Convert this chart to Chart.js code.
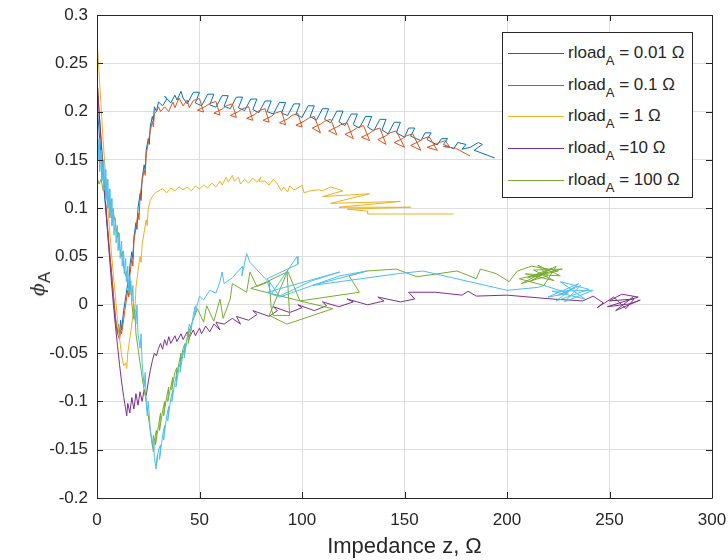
<!DOCTYPE html>
<html>
<head>
<meta charset="utf-8">
<script src="https://cdn.jsdelivr.net/npm/chart.js@4.4.1/dist/chart.umd.min.js"></script>
<style>
  html, body { margin: 0; padding: 0; background: #fff; }
  #wrap { position: relative; width: 728px; height: 560px; font-family: "Liberation Sans", Arial, sans-serif; color: #262626; }
  #c { position: absolute; left: 0; top: 0; }
  #legend { position: absolute; left: 502px; top: 32px; width: 189px; height: 164px; border: 1px solid #262626; background: #fff; }
  .row { position: absolute; left: 0; height: 20px; width: 189px; }
  .swatch { position: absolute; left: 5px; width: 56px; height: 0; border-top: 1px solid; top: 10px; }
  .lbl { position: absolute; left: 65px; top: 0; font-size: 17px; line-height: 20px; white-space: nowrap; }
  .lbl sub { font-size: 13px; vertical-align: -7px; line-height: 0; }
  #ytitle { position: absolute; left: 37px; top: 284px; transform: translate(-50%, -50%) rotate(-90deg); font-size: 19px; white-space: nowrap; font-family: "DejaVu Serif", serif; }
  #ytitle i { font-style: italic; }
  #ytitle sub { font-family: "Liberation Sans", Arial, sans-serif; font-size: 17px; vertical-align: -6px; line-height: 0; }
</style>
</head>
<body>
<div id="wrap">
  <canvas id="c" width="728" height="560"></canvas>
  <div id="ytitle"><i>ϕ</i><sub>A</sub></div>
  <div id="legend"></div>
</div>
<script>
// ---- Data ----
const xTicks = [0, 50, 100, 150, 200, 250, 300];
const yTicks = [-0.2, -0.15, -0.1, -0.05, 0, 0.05, 0.1, 0.15, 0.2, 0.25, 0.3];
const legendLabels = ["0.01", "0.1", "1", "10", "100"];
const legendPrefix = "rload";
const legendSub = "A";
const legendSep = [" = ", " = ", " = ", " =", " = "];
const seriesColors = ["#0072BD", "#D95319", "#EDB120", "#7E2F8E", "#77AC30", "#4DBEEE"];

const rload001 = [[0.3,0.2],[1,0.18],[2,0.155],[3,0.13],[4,0.105],[5,0.08],[6,0.055],[7,0.035],[8,0.01],[9,-0.015],[10,-0.03],[10.5,-0.02],[11,-0.034],[11.5,-0.016],[12,-0.026],[13,-0.006],[14,0.008],[15,0.022],[15.5,0.015],[16,0.04],[17,0.055],[17.5,0.048],[18,0.07],[19,0.085],[19.5,0.078],[20,0.1],[21,0.115],[21.5,0.108],[22,0.13],[23,0.145],[23.5,0.14],[24,0.16],[25,0.172],[25.5,0.166],[26,0.185],[27,0.195],[27.5,0.19],[28,0.205],[29,0.2],[30,0.21],[32,0.206],[34,0.213],[33,0.216],[36,0.209],[38,0.217],[39,0.212],[41,0.221],[42,0.214],
  [44,0.208],[47,0.22],[50,0.22],[48,0.209],[51,0.206],[54,0.218],[57,0.218],[55,0.207],[58,0.2045],[61,0.2165],[64,0.2165],[62,0.2055],[65,0.203],[68,0.215],[71,0.215],[69,0.204],[72,0.201],[75,0.213],[78,0.213],[76,0.202],[79,0.199],[82,0.211],[85,0.211],[83,0.2],[86,0.1975],[89,0.2095],[92,0.2095],[90,0.1985],[93,0.196],[96,0.208],[99,0.208],[97,0.197],[100,0.194],[103,0.206],[106,0.206],[104,0.195],[107,0.191],[110,0.203],[113,0.203],[111,0.192],[114,0.1885],[117,0.2005],[120,0.2005],[118,0.1895],[121,0.1855],[124,0.1975],[127,0.1975],[125,0.1865],[128,0.183],[131,0.195],[134,0.195],[132,0.184],[135,0.18],[138,0.192],[141,0.192],[139,0.181],[142,0.177],[145,0.189],[148,0.189],[146,0.178],[150,0.1735],[152,0.183],[155,0.183],[153,0.1745],[158,0.17],[160,0.178],[163,0.178],[161,0.171],[166,0.1655],[168,0.172],[171,0.172],[169,0.166],[174,0.1615],[176,0.168],[180,0.166],[178,0.161],[182,0.163],[186,0.168],[188,0.166],[184,0.16],[194,0.152]];

const rload01 = [[0.3,0.225],[1,0.2],[2,0.17],[3,0.14],[4,0.112],[5,0.085],[6,0.06],[7,0.035],[8,0.01],[9,-0.012],[10,-0.03],[11,-0.036],[11.5,-0.026],[12,-0.03],[13,-0.015],[14,0.0],[15,0.015],[15.5,0.008],[16,0.03],[17,0.048],[17.5,0.04],[18,0.065],[19,0.08],[20,0.095],[20.5,0.088],[21,0.112],[22,0.128],[23,0.14],[23.5,0.134],[24,0.155],[25,0.168],[26,0.18],[27,0.19],[27.5,0.184],[28,0.198],[29,0.2],[30,0.205],[31,0.2],[33,0.205],[35,0.2],[37,0.21],[38,0.204],[40,0.214],[42,0.206],[44,0.212],[45,0.204],
  [47,0.2115],[50,0.2135],[52,0.1995],[49,0.2015],[53,0.2055],[55,0.2085],[58,0.2105],[60,0.1965],[57,0.1985],[61,0.2025],[63,0.206],[66,0.208],[68,0.194],[65,0.196],[69,0.2],[71,0.203],[74,0.205],[76,0.191],[73,0.193],[77,0.197],[79,0.201],[82,0.203],[84,0.189],[81,0.191],[85,0.195],[87,0.1985],[90,0.2005],[92,0.1865],[89,0.1885],[93,0.1925],[95,0.196],[98,0.198],[100,0.184],[97,0.186],[101,0.19],[103,0.193],[106,0.195],[109,0.178],[105,0.183],[109,0.187],[111,0.19],[114,0.192],[117,0.176],[113,0.18],[117,0.184],[119,0.1865],[122,0.1885],[125,0.172],[121,0.1765],[125,0.1805],[127,0.1835],[130,0.1855],[133,0.17],[129,0.1735],[133,0.1775],[135,0.181],[138,0.183],[141,0.166],[137,0.171],[141,0.175],[143,0.178],[146,0.18],[150,0.163],[145,0.168],[149,0.172],[151,0.175],[154,0.177],[158,0.16],[153,0.165],[157,0.169],[159,0.172],[162,0.174],[166,0.16],[161,0.163],[165,0.166],[167,0.168],[170,0.17],[172,0.163],[169,0.164],[175,0.162],[182,0.154]];

const rload1 = [[0.3,0.265],[1,0.24],[2,0.205],[3,0.17],[4,0.14],[5,0.11],[6,0.082],[7,0.055],[8,0.03],[9,0.008],[10,-0.015],[11,-0.035],[12,-0.052],[13,-0.063],[14,-0.06],[14.5,-0.066],[15,-0.05],[16,-0.035],[17,-0.02],[18,0.0],[18.5,-0.006],[19,0.018],[20,0.035],[21,0.05],[21.5,0.044],[22,0.062],[23,0.075],[24,0.088],[24.5,0.082],[25,0.1],[26,0.108],[27,0.112],[28,0.115],[30,0.118],[32,0.12],[34,0.116],[36,0.121],[38,0.118],[40,0.122],[42,0.119],[44,0.122],[46,0.118],[48,0.123],[50,0.12],[52,0.124],[54,0.121],[56,0.126],[58,0.122],[60,0.128],[61,0.124],[63,0.132],[64,0.127],[66,0.134],[67,0.128],[69,0.132],[70,0.125],[72,0.13],[74,0.126],[76,0.131],[78,0.127],[80,0.132],[79,0.128],[82,0.128],[84,0.124],[86,0.13],[88,0.125],[90,0.118],[91,0.122],[93,0.117],[94,0.123],[96,0.119],[98,0.121],[100,0.124],[101,0.116],[104,0.118],[108,0.119],[110,0.118],[114,0.122],[120,0.118],[110,0.112],[133,0.115],[114,0.105],[148,0.107],[118,0.101],[153,0.101],[122,0.099],[132,0.097],[132,0.094],[174,0.094]];

const rload10 = [[0.3,0.225],[1,0.2],[2,0.17],[3,0.14],[4,0.11],[5,0.08],[6,0.052],[7,0.025],[8,0.0],[9,-0.022],[10,-0.042],[11,-0.062],[12,-0.08],[13,-0.095],[14,-0.108],[14.5,-0.115],[15,-0.102],[16,-0.112],[17,-0.096],[18,-0.108],[19,-0.092],[20,-0.104],[21,-0.09],[22,-0.1],[23,-0.088],[24,-0.094],[25,-0.08],[26,-0.068],[27,-0.058],[28,-0.05],[29,-0.053],[30,-0.045],[31,-0.04],[32,-0.046],[33,-0.036],[34,-0.042],[35,-0.033],[36,-0.04],[38,-0.032],[39,-0.038],[41,-0.03],[42,-0.036],[44,-0.028],[45,-0.034],[47,-0.026],[48,-0.032],[50,-0.024],[51,-0.03],[53,-0.022],[55,-0.028],[57,-0.02],[60,-0.026],[58,-0.018],[62,-0.02],[66,-0.014],[70,-0.02],[68,-0.012],[74,-0.016],[78,-0.01],[76,-0.006],[84,-0.012],[88,-0.006],[86,-0.002],[94,-0.008],[100,-0.003],[98,0.0],[106,-0.006],[112,-0.001],[110,0.003],[118,-0.002],[125,0.003],[122,0.006],[132,0.0],[140,0.004],[137,0.008],[148,0.003],[155,0.006],[152,0.013],[165,0.013],[178,0.01],[181,0.014],[185,0.009],[200,0.01],[222,0.006],[237,0.004],[242,0.009],[247,0.002],[244,-0.003],[252,0.008],[258,-0.004],[262,0.006],[250,0.004],[256,0.011],[264,0.008],[249,-0.002],[260,0.001],[265,0.005],[253,-0.006],[262,0.009]];

const rload100 = [[0.3,0.13],[1,0.125],[2,0.13],[3,0.118],[4,0.122],[5,0.11],[6,0.112],[7,0.1],[8,0.095],[9,0.085],[10,0.07],[10.5,0.075],[11,0.06],[12,0.05],[12.5,0.055],[13,0.04],[14,0.03],[14.5,0.035],[15,0.02],[16,0.01],[16.5,0.025],[17,0.0],[18,-0.015],[18.5,-0.005],[19,-0.03],[20,-0.045],[21,-0.06],[22,-0.075],[23,-0.088],[24,-0.1],[25,-0.115],[26,-0.13],[27,-0.145],[27.5,-0.152],[28,-0.14],[29,-0.13],[28.5,-0.145],[30,-0.125],[31,-0.112],[30.5,-0.13],[32,-0.11],[33,-0.1],[32.5,-0.115],[34,-0.095],[35,-0.085],[34.5,-0.1],[36,-0.085],[37,-0.075],[36.5,-0.088],[38,-0.07],[39,-0.065],[38.5,-0.078],[40,-0.06],[41,-0.05],[40.5,-0.064],[42,-0.045],[43,-0.04],[42.5,-0.052],[44,-0.034],[45,-0.03],[44.5,-0.04],[46,-0.025],[44,-0.032],[49,-0.004],[52,-0.018],[53.5,-0.001],[57,-0.017],[60,0.006],[61.5,-0.014],[65,0.006],[66,0.022],[73,0.013],[74.6,0.034],[78,0.019],[84,0.024],[85,-0.004],[86,-0.011],[94,-0.011],[92.7,0.034],[83,0.024],[75,0.017],[99,0.004],[93,0.035],[84,-0.011],[92.7,-0.02],[115,-0.004],[99,0.004],[128,0.013],[123,0.03],[131.7,0.035],[146,0.037],[156,0.029],[175.6,0.035],[185,0.027],[187,0.037],[192,0.034],[195,0.032],[201,0.024],[205,0.035],[212,0.04],[225,0.035],[210,0.028],[222,0.038],[207,0.022],[220,0.03],[215,0.041],[226,0.03],[209,0.032],[223,0.025],[213,0.036],[227,0.037],[206,0.027],[218,0.02],[224,0.04],[211,0.024],[219,0.033]];

const rloadExtra = [[0.3,0.19],[0.5,0.15],[1,0.172],[1.3,0.138],[2,0.16],[2.3,0.128],[3,0.15],[3.3,0.118],[4,0.14],[4.3,0.108],[5,0.13],[5.3,0.1],[6,0.12],[6.3,0.09],[7,0.11],[7.3,0.082],[8,0.1],[8.3,0.072],[9,0.09],[9.3,0.064],[10,0.082],[10.3,0.056],[11,0.074],[11.3,0.048],[12,0.066],[12.3,0.04],[13,0.056],[13.3,0.032],[14,0.048],[14.3,0.024],[15,0.04],[15.5,0.014],[16,0.03],[17,0.004],[17.5,0.02],[18,-0.01],[19,-0.02],[19.5,0.0],[20,-0.03],[21,-0.045],[21.5,-0.03],[22,-0.06],[23,-0.085],[23.5,-0.07],[24,-0.1],[24.5,-0.115],[25,-0.1],[26,-0.13],[27,-0.145],[27.5,-0.135],[28,-0.158],[28.8,-0.17],[29.5,-0.155],[29,-0.165],[30,-0.15],[31,-0.145],[30.5,-0.16],[32,-0.135],[33,-0.125],[32.5,-0.14],[34,-0.115],[35,-0.105],[34.5,-0.12],[36,-0.097],[37,-0.088],[36.5,-0.1],[38,-0.08],[39,-0.072],[38.5,-0.085],[40,-0.065],[41,-0.058],[40.5,-0.07],[42,-0.05],[43,-0.042],[42.5,-0.055],[44,-0.035],[45,-0.02],[46,-0.025],[47,-0.01],[48,-0.001],[47.5,-0.012],[50,0.009],[52,0.005],[55,0.015],[58,0.012],[60,0.024],[61,0.034],[62,0.022],[66,0.028],[71,0.04],[70.7,0.03],[73,0.053],[74.6,0.044],[83,0.025],[85,0.011],[97.6,0.05],[98,0.042],[83,0.027],[89,0.009],[105,0.025],[118.5,0.034],[83,0.013],[89,0.008],[118.5,0.03],[131.7,0.035],[105,0.02],[146,0.032],[159,0.035],[200,0.015],[215,0.018],[218,0.02],[230,0.012],[220,0.008],[235,0.022],[224,0.004],[240,0.016],[226,0.024],[238,0.006],[222,0.014],[242,0.015],[228,0.003],[236,0.02],[225,0.01],[233,0.018]];

const allSeries = [rload001, rload01, rload1, rload10, rload100, rloadExtra];

// ---- Legend (HTML, real text) ----
const leg = document.getElementById('legend');
legendLabels.forEach((v, i) => {
  const row = document.createElement('div');
  row.className = 'row';
  row.style.top = (10 + i * 31.7) + 'px';
  const sw = document.createElement('div');
  sw.className = 'swatch';
  sw.style.borderTopColor = seriesColors[i];
  const lb = document.createElement('div');
  lb.className = 'lbl';
  lb.innerHTML = legendPrefix + '<sub>' + legendSub + '</sub>' + legendSep[i] + v + ' Ω';
  row.appendChild(sw); row.appendChild(lb);
  leg.appendChild(row);
});

// ---- Chart ----
const boxPlugin = {
  id: 'boxPlugin',
  afterDatasetsDraw(chart) {
    const {ctx, chartArea: a, scales} = chart;
    ctx.save();
    ctx.strokeStyle = '#262626';
    ctx.lineWidth = 1;
    ctx.beginPath();
    ctx.rect(Math.round(a.left) + 0.5, Math.round(a.top) + 0.5, Math.round(a.right - a.left), Math.round(a.bottom - a.top));
    ctx.stroke();
    ctx.beginPath();
    const L = 6;
    xTicks.forEach(t => {
      const x = Math.round(scales.x.getPixelForValue(t)) + 0.5;
      ctx.moveTo(x, a.bottom); ctx.lineTo(x, a.bottom - L);
      ctx.moveTo(x, a.top); ctx.lineTo(x, a.top + L);
    });
    yTicks.forEach(t => {
      const y = Math.round(scales.y.getPixelForValue(t)) + 0.5;
      ctx.moveTo(a.left, y); ctx.lineTo(a.left + L, y);
      ctx.moveTo(a.right, y); ctx.lineTo(a.right - L, y);
    });
    ctx.stroke();
    ctx.restore();
  }
};

const datasets = allSeries.map((s, i) => ({
  label: i < legendLabels.length ? legendPrefix + legendSub + legendSep[i] + legendLabels[i] + ' Ω' : 'extra',
  data: s.map(p => ({x: p[0], y: p[1]})),
  borderColor: seriesColors[i],
  backgroundColor: seriesColors[i],
  borderWidth: 1,
  pointRadius: 0,
  showLine: true,
  tension: 0,
  fill: false,
  order: 10 - i
}));

new Chart(document.getElementById('c'), {
  type: 'scatter',
  data: { datasets },
  options: {
    responsive: false,
    animation: false,
    layout: { padding: { top: 15, right: 16, left: 0, bottom: 0 } },
    plugins: { legend: { display: false }, tooltip: { enabled: false } },
    scales: {
      x: {
        type: 'linear', min: 0, max: 300,
        afterBuildTicks: s => { s.ticks = xTicks.map(v => ({value: v})); },
        afterFit: s => { s.height = 62; s.paddingLeft = 0; s.paddingRight = 0; },
        ticks: { color: '#262626', font: { family: 'Liberation Sans', size: 17 }, padding: 12, maxRotation: 0 },
        grid: { color: '#dedede', drawTicks: false },
        border: { display: false },
        title: { display: true, text: 'Impedance z, Ω', color: '#262626', font: { family: 'Liberation Sans', size: 22 }, padding: { top: 0, bottom: 0 } }
      },
      y: {
        type: 'linear', min: -0.2, max: 0.3,
        afterBuildTicks: s => { s.ticks = yTicks.map(v => ({value: v})); },
        afterFit: s => { s.width = 97; s.paddingTop = 0; s.paddingBottom = 0; },
        ticks: { color: '#262626', font: { family: 'Liberation Sans', size: 17 }, padding: 9, callback: v => String(Math.round(v * 100) / 100) },
        grid: { color: '#dedede', drawTicks: false },
        border: { display: false }
      }
    }
  },
  plugins: [boxPlugin]
});
</script>
</body>
</html>
